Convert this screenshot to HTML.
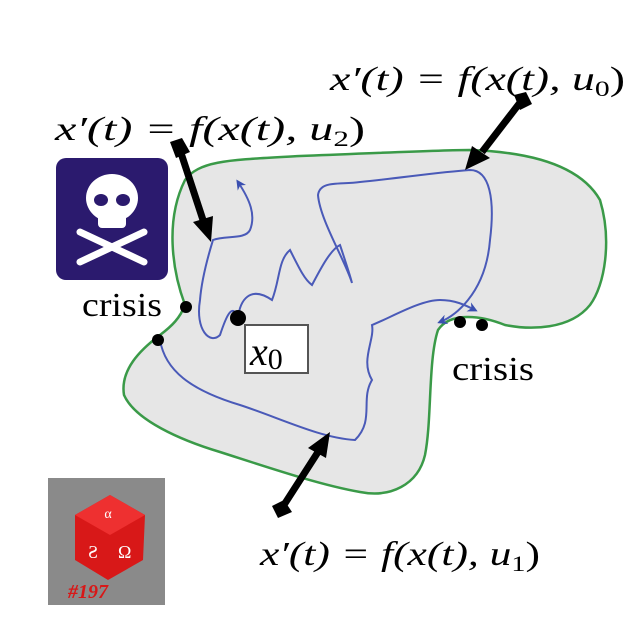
<!DOCTYPE html><html><head><style>body{margin:0;background:#fff}svg{display:block}text{font-family:"Liberation Serif",serif}</style></head><body>
<svg width="640" height="640" viewBox="0 0 640 640">
<defs>
<marker id="bh" markerWidth="10" markerHeight="10" refX="7" refY="5" orient="auto" markerUnits="userSpaceOnUse"><path d="M0,0 L10,5 L0,10 L3,5z" fill="#3a4fb0"/></marker>
</defs>
<path d="M185,305 C172,270 165,220 185,180 C200,160 230,160 300,156 C380,153 440,150 470,150 C530,152 580,165 600,200 C612,240 605,285 590,305 C570,330 530,330 505,325 C480,315 450,312 438,330 C428,360 432,420 425,455 C418,485 390,498 360,492 C320,485 270,468 220,452 C180,440 135,420 124,395 C120,370 140,350 160,335 C172,326 180,318 185,305Z" fill="#e6e6e6" stroke="#3a9a48" stroke-width="2.5"/>
<g fill="none" stroke="#4a5ab8" stroke-width="2">
<path d="M160,340 C165,370 190,390 240,405 C280,418 320,438 355,440 C375,420 360,400 372,380 C360,360 375,340 372,325 C390,318 420,300 440,300 C455,300 465,305 475,310" marker-end="url(#bh)"/>
<path d="M238,318 C240,300 250,285 272,300 C280,280 278,260 290,250 C300,270 305,280 312,285 C320,270 330,250 340,245 C345,260 350,275 352,283 C345,260 320,220 318,195 C320,180 340,185 360,182 C400,178 440,172 470,170 C490,170 495,200 490,240 C488,265 480,285 468,300 C460,310 450,318 440,322" marker-end="url(#bh)"/>
<path d="M238,318 C232,300 225,320 220,335 C210,345 195,330 200,300 C202,275 210,250 213,240 C225,235 245,240 250,230 C256,215 250,200 238,182" marker-end="url(#bh)"/>
</g>
<g fill="#000">
<circle cx="186" cy="307" r="6"/><circle cx="158" cy="340" r="6"/><circle cx="238" cy="318" r="8"/><circle cx="460" cy="322" r="6"/><circle cx="482" cy="325" r="6"/>
</g>
<g stroke="#000" stroke-width="7">
<line x1="180" y1="150" x2="203" y2="220"/><line x1="522" y1="100" x2="482" y2="152"/><line x1="282" y1="508" x2="318" y2="452"/>
</g>
<g fill="#000">
<path d="M170,142 L182,138 L190,152 L176,158z"/><path d="M193,222 L213,216 L211,242z"/>
<path d="M514,95 L526,92 L532,104 L520,110z"/><path d="M472,146 L490,158 L465,170z"/>
<path d="M272,506 L284,500 L292,512 L278,518z"/><path d="M308,448 L326,458 L330,432z"/>
</g>
<rect x="245" y="325" width="63" height="48" fill="#fff" stroke="#555" stroke-width="2"/>
<text x="250" y="365" font-size="40" font-style="italic">x<tspan font-style="normal" font-size="30" dy="4">0</tspan></text>
<text x="330" y="90" font-size="34" font-style="italic" textLength="295" lengthAdjust="spacingAndGlyphs">x′(t) = f(x(t), u<tspan font-size="22" dy="6" font-style="normal">0</tspan><tspan dy="-6" font-style="normal">)</tspan></text>
<text x="55" y="140" font-size="34" font-style="italic" textLength="310" lengthAdjust="spacingAndGlyphs">x′(t) = f(x(t), u<tspan font-size="22" dy="6" font-style="normal">2</tspan><tspan dy="-6" font-style="normal">)</tspan></text>
<text x="260" y="565" font-size="34" font-style="italic" textLength="280" lengthAdjust="spacingAndGlyphs">x′(t) = f(x(t), u<tspan font-size="22" dy="6" font-style="normal">1</tspan><tspan dy="-6" font-style="normal">)</tspan></text>
<text x="82" y="316" font-size="34" textLength="80" lengthAdjust="spacingAndGlyphs">crisis</text>
<text x="452" y="380" font-size="34" textLength="82" lengthAdjust="spacingAndGlyphs">crisis</text>
<rect x="56" y="158" width="112" height="122" rx="10" fill="#2b1a6e"/>
<g fill="#fff">
<ellipse cx="112" cy="198" rx="26" ry="24"/><rect x="98" y="212" width="28" height="16" rx="4"/>
<g stroke="#fff" stroke-width="7" stroke-linecap="round"><line x1="80" y1="232" x2="144" y2="262"/><line x1="144" y1="232" x2="80" y2="262"/></g>
</g>
<g fill="#2b1a6e"><ellipse cx="101" cy="200" rx="7" ry="6"/><ellipse cx="123" cy="200" rx="7" ry="6"/></g>
<rect x="48" y="478" width="117" height="127" fill="#8a8a8a"/>
<path d="M75,515 L110,495 L145,515 L143,560 L108,580 L75,560z" fill="#d81818"/>
<path d="M75,515 L110,495 L145,515 L110,535z" fill="#ee3030"/>
<text x="108" y="518" font-size="14" fill="#fff" text-anchor="middle">α</text>
<text x="88" y="558" font-size="18" fill="#fff">Ƨ</text><text x="118" y="558" font-size="18" fill="#fff">Ω</text>
<text x="68" y="598" font-size="20" font-weight="bold" font-style="italic" fill="#d81818">#197</text>
</svg></body></html>
